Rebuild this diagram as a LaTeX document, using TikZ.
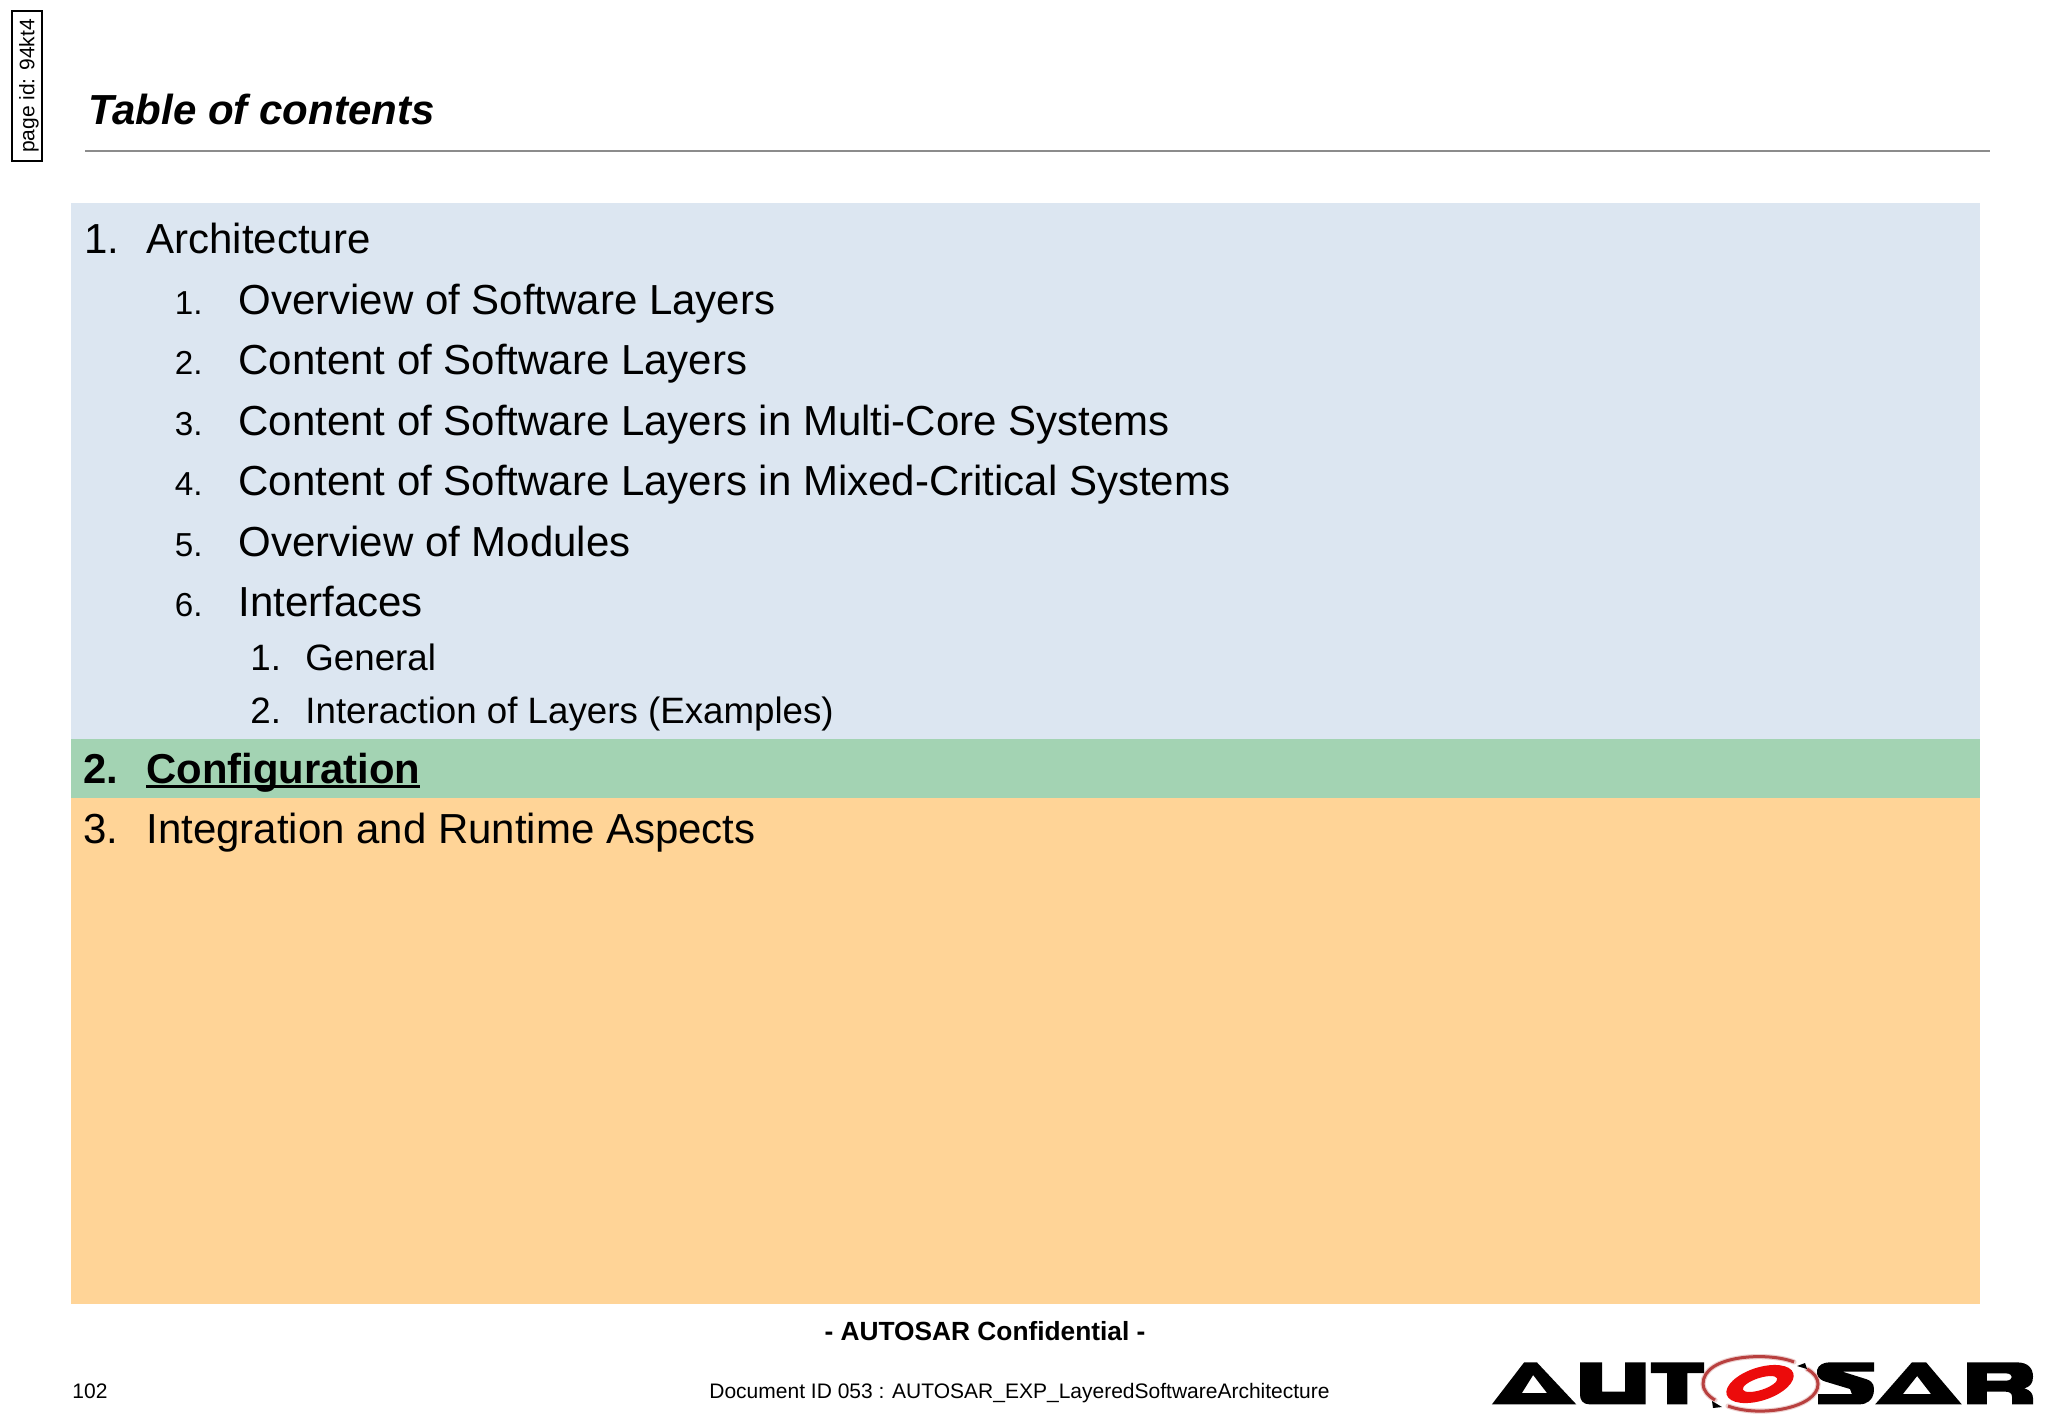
\documentclass[tikz,border=0pt]{standalone}
\usepackage{fontspec}
\setmainfont{Liberation Sans}
\definecolor{bandblue}{HTML}{DCE6F1}
\definecolor{bandgreen}{HTML}{A3D3B3}
\definecolor{bandorange}{HTML}{FFD497}
\definecolor{rulegray}{HTML}{8C8C8C}
\definecolor{logored}{HTML}{EC0B0B}
\definecolor{logodark}{HTML}{B8403F}
\newcommand{\myul}[1]{\setbox0=\hbox{#1}\rlap{\rule[-2.6pt]{\wd0}{1.5pt}}\box0\relax}
\tikzset{
  band/.style={draw=none,inner sep=0pt,minimum width=954.5pt,anchor=north west},
  lone/.style={anchor=base west,inner sep=0pt,font=\fontsize{21}{25}\selectfont},
  ltwonum/.style={anchor=base west,inner sep=0pt,font=\fontsize{16.6}{19}\selectfont},
  lthree/.style={anchor=base west,inner sep=0pt,font=\fontsize{18.35}{22}\selectfont},
  lbold/.style={anchor=base west,inner sep=0pt,font=\fontsize{20.9}{25}\selectfont\bfseries},
  foot/.style={anchor=base west,inner sep=0pt,font=\fontsize{10.5}{13}\selectfont},
}
\begin{document}
\begin{tikzpicture}[x=0.5pt,y=-0.5pt]
\useasboundingbox (0,0) rectangle (2048,1418);
\fill[white] (0,0) rectangle (2048,1418);
% bands
\node[band,fill=bandblue,minimum height=268pt] (blue) at (71,203) {};
\node[band,fill=bandgreen,minimum height=29.5pt] (green) at (71,739) {};
\node[band,fill=bandorange,minimum height=253pt] (orange) at (71,798) {};
% header
\node[draw=black,line width=0.7pt,minimum width=15pt,minimum height=75pt,inner sep=0pt] (pid) at (27,86) {};
\node[rotate=90,inner sep=0pt,font=\fontsize{10.5}{12}\selectfont] (pidtext) at (29,86) {page id: 94kt4};
\node[anchor=base west,inner sep=0pt,font=\fontsize{21}{25}\selectfont\bfseries\itshape] (title) at (88,125) {Table of contents};
\coordinate (ruleA) at (85,151);
\coordinate (ruleB) at (1990,151);
\draw[rulegray,line width=0.7pt] (ruleA) -- (ruleB);
% list
\node[lone] (n1) at (84,253.5) {1.};
\node[lone] (t1) at (146,253.5) {Architecture};
\node[ltwonum] (n11) at (174.5,314) {1.};
\node[lone] (t11) at (238,314) {Overview of Software Layers};
\node[ltwonum] (n12) at (174.5,374.5) {2.};
\node[lone] (t12) at (238,374.5) {Content of Software Layers};
\node[ltwonum] (n13) at (174.5,435) {3.};
\node[lone] (t13) at (238,435) {Content of Software Layers in Multi-Core Systems};
\node[ltwonum] (n14) at (174.5,495.5) {4.};
\node[lone] (t14) at (238,495.5) {Content of Software Layers in Mixed-Critical Systems};
\node[ltwonum] (n15) at (174.5,556) {5.};
\node[lone] (t15) at (238,556) {Overview of Modules};
\node[ltwonum] (n16) at (174.5,616.5) {6.};
\node[lone] (t16) at (238,616.5) {Interfaces};
\node[lthree] (n161) at (250,670) {1.};
\node[lthree] (t161) at (305,670) {General};
\node[lthree] (n162) at (250,723) {2.};
\node[lthree] (t162) at (305,723) {Interaction of Layers (Examples)};
\node[lbold] (n2) at (83,783) {2.};
\node[lbold] (t2) at (146,783) {\myul{Configuration}};
\node[lone] (n3) at (83,843) {3.};
\node[lone] (t3) at (146,843) {Integration and Runtime Aspects};
% footer
\node[anchor=base,inner sep=0pt,font=\fontsize{13.15}{16}\selectfont\bfseries] (conf) at (985,1340) {- AUTOSAR Confidential -};
\node[foot] (page) at (72,1398) {102};
\node[foot] (docid) at (709,1398) {Document ID 053 : AUTOSAR\_EXP\_LayeredSoftwareArchitecture};
% logo letters
\begin{scope}[shift={(1460,1320)},x=0.1875pt,y=-0.16667pt]
\fill[black,even odd rule] (85,253) -- (171,127) -- (205,127) -- (310,253) -- cycle (165,219) -- (232,219) -- (195,165) -- cycle;
\fill[black] (320,127) -- (379,127) -- (379,215) -- (440,215) -- (440,127) -- (495,127) -- (495,253) -- (345,253) .. controls (328,253) and (320,240) .. (320,225) -- cycle;
\fill[black] (509,127) -- (651,127) -- (651,159) -- (606,159) -- (606,253) -- (552,253) -- (552,159) -- (509,159) -- cycle;
\fill[black] (985,127) -- (1104,127) -- (1104,155) -- (1020,155) -- (1085,178) .. controls (1105,187) and (1105,200) .. (1103,220) .. controls (1100,240) and (1085,253) .. (1065,253) -- (955,253) -- (955,222) -- (1045,222) -- (1040,207) -- (975,185) .. controls (955,178) and (950,165) .. (952,150) .. controls (955,135) and (970,127) .. (985,127) -- cycle;
\fill[black,even odd rule] (1107,253) -- (1205,127) -- (1243,127) -- (1338,253) -- cycle (1181,222) -- (1256,222) -- (1219,168) -- cycle;
\fill[black,even odd rule] (1352,127) -- (1485,127) .. controls (1515,127) and (1528,145) .. (1528,170) .. controls (1528,190) and (1520,200) .. (1505,205) .. controls (1520,210) and (1528,220) .. (1528,235) -- (1528,253) -- (1472,253) -- (1472,230) .. controls (1472,220) and (1465,215) .. (1455,215) -- (1405,215) -- (1405,253) -- (1352,253) -- cycle (1405,160) -- (1455,160) .. controls (1477,160) and (1477,182) .. (1455,182) -- (1405,182) -- cycle;
\end{scope}
% logo emblem
\draw[logodark,opacity=0.25,line width=2.6pt,line cap=round] (1794,1362) .. controls (1770,1352) and (1703,1354) .. (1703,1384) .. controls (1703,1390) and (1708,1396) .. (1715,1400);
\draw[logodark,opacity=0.25,line width=2.6pt,line cap=round] (1728,1406) .. controls (1760,1418) and (1818,1408) .. (1818,1384) .. controls (1818,1378) and (1814,1373) .. (1807,1369);
\draw[logodark,line width=1.5pt] (1794,1362) .. controls (1770,1352) and (1703,1354) .. (1703,1384) .. controls (1703,1390) and (1708,1396) .. (1715,1400);
\draw[logodark,line width=1.5pt] (1728,1406) .. controls (1760,1418) and (1818,1408) .. (1818,1384) .. controls (1818,1378) and (1814,1373) .. (1807,1369);
\fill[black] (1797,1366) -- (1805,1363) -- (1807,1369) -- cycle;
\fill[black] (1712,1401) -- (1722,1407) -- (1713,1408) -- cycle;
\fill[logored,even odd rule,rotate around={18:(1760,1384)}] (1760,1384) ellipse [x radius=35,y radius=16.5] (1760,1384) ellipse [x radius=18,y radius=6];
\end{tikzpicture}
\end{document}
